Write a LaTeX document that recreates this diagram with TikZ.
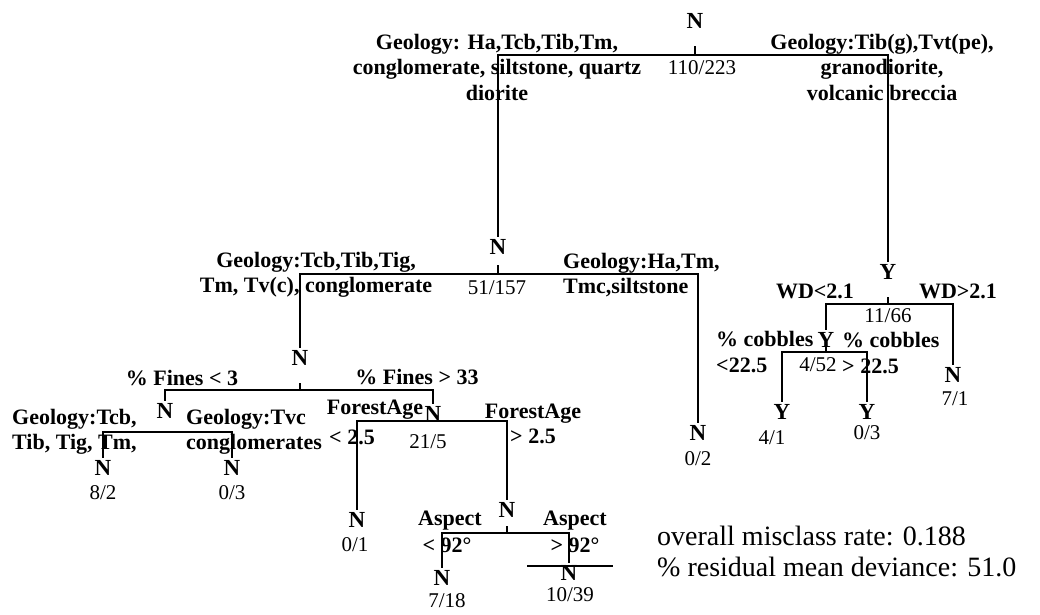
\documentclass[tikz,border=0pt]{standalone}
\usepackage{fontspec}
\setmainfont{Liberation Serif}
\usepackage{tikz}

\begin{document}
\begin{tikzpicture}[x=1pt,y=-1pt]
\tikzset{cls/.style = {font=\bfseries\fontsize{23}{25}\selectfont,inner sep=2.5pt},
cnt/.style = {font=\fontsize{21}{24}\selectfont,inner sep=0pt},
rule/.style = {font=\bfseries\fontsize{22}{25.5}\selectfont,inner sep=0pt,align=center},
branch/.style = {line width=1.8pt},
note/.style = {font=\fontsize{28}{30}\selectfont,anchor=west,inner sep=0pt}}
\useasboundingbox (0,0) rectangle (1040,614);
% splits
\node[cls] (root) at (695,21) {N};
\node[cls] (geo) at (498,247) {N};
\node[cls] (wd) at (888,272) {Y};
\node[cls] (cob) at (826,340) {Y};
\node[cls] (fin) at (300,358) {N};
\node[cls] (tvc) at (165,411) {N};
\node[cls] (for) at (433,414) {N};
\node[cls] (asp) at (507,510) {N};
% leaves
\node[cls] (leaf-geo) at (698,433) {N};
\node[cls] (leaf-wd) at (953,375) {N};
\node[cls] (leaf-cob-l) at (782,412) {Y};
\node[cls] (leaf-cob-r) at (867,412) {Y};
\node[cls] (leaf-tvc-l) at (103,468) {N};
\node[cls] (leaf-tvc-r) at (232,468) {N};
\node[cls] (leaf-for) at (357,520) {N};
\node[cls] (leaf-asp-l) at (442,578) {N};
\node[cls] (leaf-asp-r) at (569,573) {N};
% counts
\node[cnt] (c-root) at (702,68) {110/223};
\node[cnt] (c-geo) at (497,288) {51/157};
\node[cnt] (c-wd) at (888,316) {11/66};
\node[cnt] (c-cob) at (818,365) {4/52};
\node[cnt] (c-for) at (428,442) {21/5};
\node[cnt] (c-leaf-geo) at (698,459) {0/2};
\node[cnt] (c-leaf-wd) at (955,399) {7/1};
\node[cnt] (c-leaf-cob-l) at (772,438) {4/1};
\node[cnt] (c-leaf-cob-r) at (867,433) {0/3};
\node[cnt] (c-leaf-tvc-l) at (103,493) {8/2};
\node[cnt] (c-leaf-tvc-r) at (232,493) {0/3};
\node[cnt] (c-leaf-for) at (355,545) {0/1};
\node[cnt] (c-leaf-asp-l) at (447,601) {7/18};
\node[cnt] (c-leaf-asp-r) at (570,595) {10/39};
% split rules
\node[rule] (r-root-l) at (497,67) {Geology: Ha,Tcb,Tib,Tm,\\conglomerate, siltstone, quartz\\diorite};
\node[rule] (r-root-r) at (882,67) {Geology:Tib(g),Tvt(pe),\\granodiorite,\\volcanic breccia};
\node[rule] (r-geo-l) at (316,275) {Geology:Tcb,Tib,Tig,\\Tm, Tv(c), conglomerate};
\node[rule,align=left,anchor=west] (r-geo-r) at (563,275) {Geology:Ha,Tm,\\Tmc,siltstone};
\node[rule] (r-wd-l) at (815,291) {WD<2.1};
\node[rule] (r-wd-r) at (958,291) {WD>2.1};
\node[rule,align=left,anchor=west] (r-cob-l) at (716,352) {\% cobbles\\<22.5};
\node[rule,align=left,anchor=west] (r-cob-r) at (842,353) {\% cobbles\\> 22.5};
\node[rule] (r-fin-l) at (182,378) {\% Fines < 3};
\node[rule] (r-fin-r) at (417,377) {\% Fines > 33};
\node[rule,align=left,anchor=west] (r-tvc-l) at (12,432) {Geology:Tcb,\\Tib, Tig, Tm,};
\node[rule,align=left,anchor=west] (r-tvc-r) at (186,432) {Geology:Tvc\\conglomerates};
\node[rule] (r-for-l) at (375,410) {ForestAge};
\node[rule] (r-for-l2) at (352,437) {< 2.5};
\node[rule] (r-for-r) at (533,424) {ForestAge\\> 2.5};
\node[rule] (r-asp-l) at (450,521) {Aspect};
\node[rule] (r-asp-l2) at (447,545) {< 92°};
\node[rule] (r-asp-r) at (575,521) {Aspect};
\node[rule] (r-asp-r2) at (575,545) {> 92°};
% fit summary
\node[note] (misclass) at (657,536) {overall misclass rate: 0.188};
\node[note] (deviance) at (657,567) {\% residual mean deviance: 51.0};

%edges
\coordinate (b-root) at (695,55);
\coordinate (b-geo) at (498,274);
\coordinate (b-wd) at (888,304);
\coordinate (b-cob) at (826,352);
\coordinate (b-fin) at (300,390);
\coordinate (b-tvc) at (165,432);
\coordinate (b-for) at (433,421);
\coordinate (b-asp) at (507,533);
\draw[branch] (geo.north) |- (b-root) -| (wd.north);
\draw[branch] (fin.north) |- (b-geo) -| (leaf-geo.north);
\draw[branch] (cob.north) |- (b-wd) -| (leaf-wd.north);
\draw[branch] (leaf-cob-l.north) |- (b-cob) -| (leaf-cob-r.north);
\draw[branch] (tvc.north) |- (b-fin) -| (for.north);
\draw[branch] (leaf-tvc-l.north) |- (b-tvc) -| (leaf-tvc-r.north);
\draw[branch] (leaf-for.north) |- (b-for) -| (asp.north);
\draw[branch] (leaf-asp-l.north) |- (b-asp) -| (leaf-asp-r.north);
\draw[branch] (b-root) -- ++(0,-9);
\draw[branch] (b-geo) -- ++(0,-9);
\draw[branch] (b-wd) -- ++(0,-7);
\draw[branch] (b-cob) -- ++(0,-6);
\draw[branch] (b-fin) -- ++(0,-7);
\draw[branch] (b-asp) -- ++(0,-7);
\coordinate (u-l) at (527,566);
\coordinate (u-r) at (613,566);
\draw[line width=1.2pt] (u-l) -- (u-r);
\end{tikzpicture}
\end{document}
